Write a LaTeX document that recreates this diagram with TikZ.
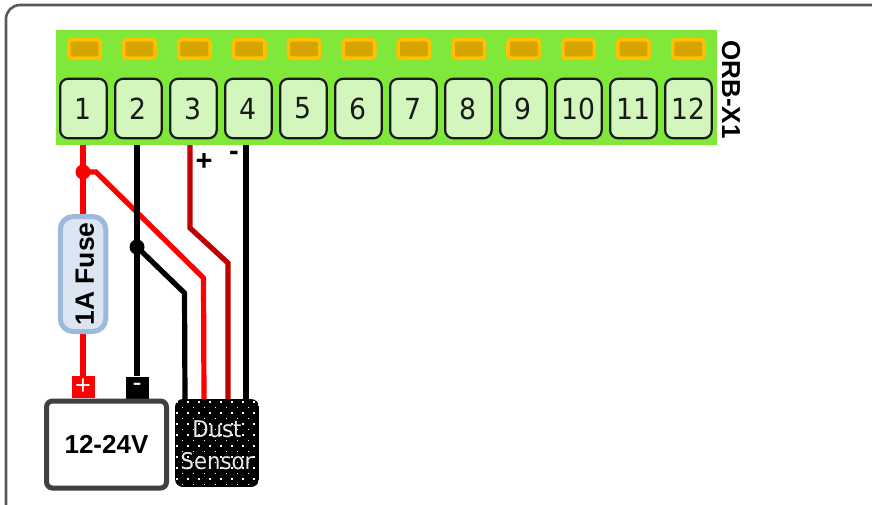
\documentclass[tikz,border=0pt]{standalone}
\usepackage{fontspec}
\setmainfont{Liberation Sans}
\newfontfamily\tahomalike[FakeStretch=0.92]{DejaVu Sans}
\definecolor{stripgreen}{HTML}{7FE83B}
\definecolor{termfill}{HTML}{D3F6BC}
\definecolor{padfill}{HTML}{D5A400}
\definecolor{padline}{HTML}{FFC000}
\definecolor{framegray}{HTML}{595959}
\definecolor{boxgray}{HTML}{404040}
\definecolor{fusefill}{HTML}{DCE6F2}
\definecolor{fuseline}{HTML}{9DB9DC}
\definecolor{wirered}{HTML}{FF0000}
\definecolor{wiredark}{HTML}{C00000}
\tikzset{
  x=1pt,y=-1pt,
  terminal/.style={draw=black!90,line width=2.2pt,fill=termfill,rounded corners=8pt,minimum width=46.5pt,minimum height=59.5pt,inner sep=0pt,font=\tahomalike\fontsize{29}{29}\selectfont,text=black!90},
  pad/.style={draw=padline,line width=3.6pt,fill=padfill,rounded corners=3pt,minimum width=31.5pt,minimum height=18.5pt,inner sep=0pt},
  redwire/.style={draw=wirered,line width=5.2pt},
  darkwire/.style={draw=wiredark,line width=5.2pt},
  blackwire/.style={draw=black,line width=5.2pt},
  junction/.style={circle,inner sep=0pt,minimum size=15pt},
  polarity/.style={minimum width=23pt,minimum height=22pt,inner sep=0pt,text=white,font=\fontsize{27}{27}\selectfont},
  lbl/.style={inner sep=0pt,font=\bfseries\fontsize{29}{29}\selectfont},
}
\begin{document}
\begin{tikzpicture}
\useasboundingbox (0,0) rectangle (872,504);
\clip (0,0) rectangle (872,504);
\fill[white] (0,0) rectangle (872,504);
\draw[framegray,line width=2.6pt,rounded corners=14pt] (6,5) rectangle (900,520);
\node[fill=stripgreen,minimum width=661pt,minimum height=115pt,inner sep=0pt] (strip) at (386.5,87.5) {};
\foreach \n in {1,...,12}{
  \node[terminal] (t\n) at ({83.4+55*(\n-1)},108.5) {\n};
  \node[pad] (p\n) at ({84.5+54.9*(\n-1)},49) {};
}
\node[rotate=-90,inner sep=0pt,font=\bfseries\fontsize{26}{26}\selectfont] (orb) at (731,89.5) {ORB-X1};
\coordinate (w1) at (83,145);
\coordinate (w2) at (137,145);
\coordinate (w3) at (190,145);
\coordinate (w4) at (246,145);
% lower nodes
\node[polarity,fill=wirered] (vplus) at (83,387) {+};
\node[polarity,fill=black] (vminus) at (137,387.5) {-};
\node[draw=boxgray,line width=5pt,fill=white,rounded corners=6pt,minimum width=120pt,minimum height=87pt,inner sep=0pt,font=\bfseries\fontsize{26}{26}\selectfont] (psu) at (106.5,444.5) {12-24V};
\coordinate (ds1) at (185,400);
\coordinate (ds2) at (204,400);
\coordinate (ds3) at (228,400);
\coordinate (ds4) at (246,400);
% wires
\node[junction,fill=wirered] (jr) at (83,172) {};
\node[junction,fill=black] (jb) at (137,247) {};
\draw[redwire] (w1) -- (vplus);
\draw[redwire,line join=miter] (jr.center) -- (96,172) -- (203.5,278) -- (ds2);
\draw[blackwire] (w2) -- (vminus);
\draw[blackwire] (jb.center) -- (184.5,293) -- (ds1);
\draw[darkwire] (w3) -- (190,228) -- (228,263) -- (ds3);
\draw[blackwire] (w4) -- (ds4);
\node[lbl] (plus) at (204,162) {+};
\node[lbl] (minus) at (234,156) {-};
% fuse
\node[draw=fuseline,line width=5pt,fill=fusefill,rounded corners=13pt,minimum width=45.5pt,minimum height=115pt,inner sep=0pt] (fuse) at (83,274) {};
\node[rotate=90,inner sep=0pt,font=\bfseries\fontsize{26.5}{26.5}\selectfont] (fuset) at (85,274) {1A Fuse};
% dust sensor
\begin{scope}
\path[clip,rounded corners=8pt] (175,399) rectangle (259,487);
\fill[black] (175,399) rectangle (259,487);
\foreach \r in {0,...,16}{
  \pgfmathsetmacro{\off}{mod(\r,2)*5.5}
  \foreach \c in {0,...,8}{
    \fill[white] ({177+\off+11*\c-0.8},{402+5.5*\r-0.8}) rectangle ++(1.7,1.7);
  }
}
\end{scope}
\node[minimum width=84pt,minimum height=88pt,inner sep=0pt,align=center,text=white!92!black,font=\tahomalike\fontsize{23}{32}\selectfont] (dust) at (217,445.5) {Dust\\Sensor};
\end{tikzpicture}
\end{document}
